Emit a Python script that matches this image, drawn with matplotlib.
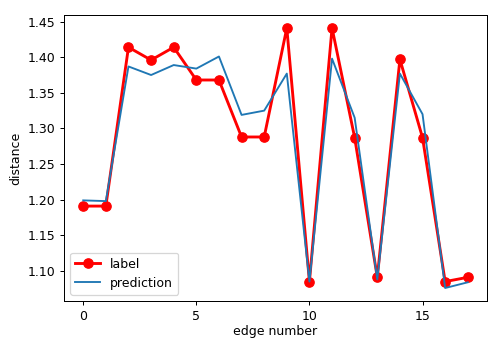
import matplotlib
matplotlib.use("Agg")
import matplotlib.pyplot as plt

edges = list(range(18))
label = [1.191, 1.191, 1.414, 1.396, 1.414, 1.368, 1.368, 1.288, 1.288,
         1.441, 1.085, 1.441, 1.287, 1.091, 1.397, 1.287, 1.085, 1.091]
prediction = [1.199, 1.198, 1.387, 1.375, 1.389, 1.384, 1.401, 1.319, 1.325,
              1.377, 1.085, 1.398, 1.315, 1.088, 1.377, 1.320, 1.076, 1.084]
xticks = [0, 5, 10, 15]

DPI = 90
fig = plt.figure(figsize=(489/DPI, 338/DPI), dpi=DPI)
ax = fig.add_axes([64/489, 1 - 301/338, (487-64)/489, (301-15)/338])
ax.plot(edges, label, color='red', marker='o', linewidth=2.3, markersize=7.5, label='label')
ax.plot(edges, prediction, color='#1f77b4', linewidth=1.5, label='prediction')
ax.set_xticks(xticks)
ax.set_xlabel('edge number', labelpad=1.5)
ax.set_ylabel('distance')
ax.legend(loc='lower left')
fig.savefig('out.png', dpi=DPI)
